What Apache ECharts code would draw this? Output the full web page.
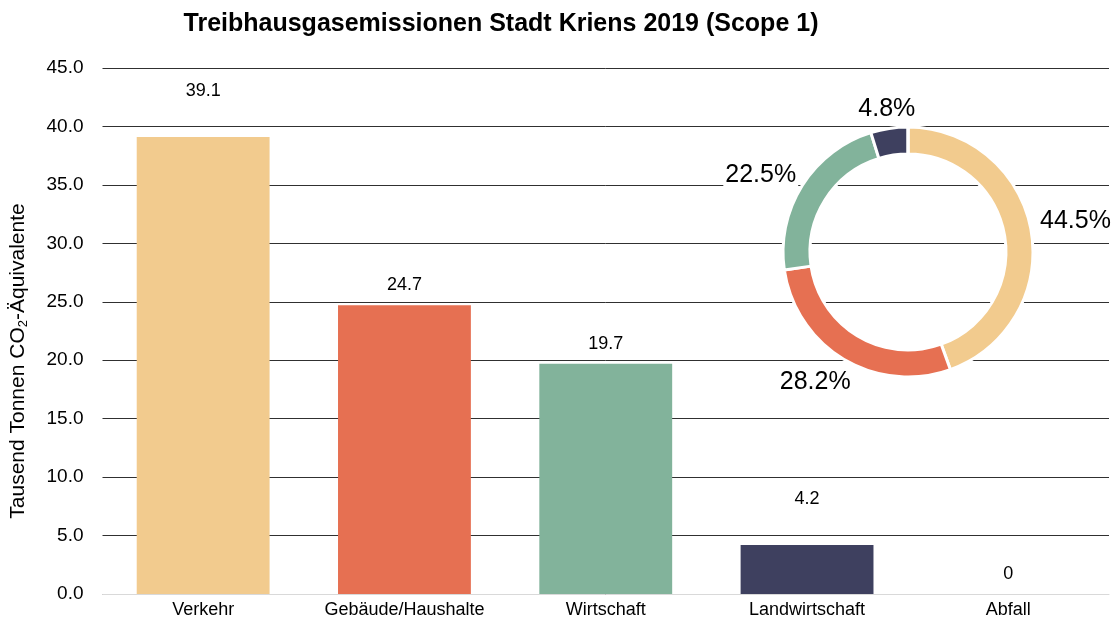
<!DOCTYPE html>
<html>
<head>
<meta charset="utf-8">
<script src="https://cdn.jsdelivr.net/npm/echarts@6/dist/echarts.min.js"></script>
<style>
  html, body { margin: 0; padding: 0; background: #fff; }
  #chart { width: 1118px; height: 625px; }
</style>
</head>
<body>
<div id="chart"></div>
<script>
  // data
  var categories = ["Verkehr", "Gebäude/Haushalte", "Wirtschaft", "Landwirtschaft", "Abfall"];
  var emissions = [39.1, 24.7, 19.7, 4.2, 0];      // Tausend Tonnen CO2-Äq.
  var shares = [44.5, 28.2, 22.5, 4.8, 0];        // % of total, as labelled in the donut
  var yTicks = [0, 5, 10, 15, 20, 25, 30, 35, 40, 45];

  var colors = ["#F2CB8E", "#E67052", "#82B39B", "#3E405F", "#A5A5A5"];
  var labelGap = [37, 11, 11, 37, 11];            // the source chart lifts some labels higher

  var chart = echarts.init(document.getElementById("chart"));
  var font = "Liberation Sans, Arial, sans-serif";

  var barData = emissions.map(function (v, i) {
    return {
      value: v,
      itemStyle: { color: colors[i] },
      label: { distance: labelGap[i] }
    };
  });

  var pieData = shares.map(function (v, i) {
    return {
      name: categories[i],
      value: v,
      itemStyle: { color: colors[i] },
      label: { show: v > 0 }
    };
  });

  // nudges so the donut labels sit where the source put them
  var pieNudge = [[-4, -8], [17, 18], [6, -7], [34, -13], [0, 0]];

  chart.setOption({
    animation: false,
    textStyle: { fontFamily: font },
    title: {
      text: "Treibhausgasemissionen Stadt Kriens 2019 (Scope 1)",
      left: 496, top: 7, textAlign: "center",
      textStyle: { fontSize: 25, fontWeight: "bold", color: "#000", fontFamily: font }
    },
    grid: { left: 98, right: 9, top: 68, bottom: 31 },
    xAxis: {
      type: "category",
      data: categories,
      axisLine: { lineStyle: { color: "#D9D9D9", width: 1 } },
      axisTick: { show: false },
      axisLabel: { color: "#000", fontSize: 18, margin: 7, interval: 0, hideOverlap: false }
    },
    yAxis: {
      type: "value",
      min: yTicks[0], max: yTicks[yTicks.length - 1], interval: 5,
      name: "{a|Tausend Tonnen CO}{s|2}{a|-Äquivalente}",
      nameLocation: "middle",
      nameGap: 73,
      nameTextStyle: {
        padding: [0, 60, 0, 0],
        rich: {
          a: { fontSize: 21, color: "#000", fontFamily: font },
          s: { fontSize: 13, color: "#000", fontFamily: font, padding: [9, 0, 0, 0] }
        }
      },
      axisLine: { show: false },
      axisTick: { show: false },
      axisLabel: {
        color: "#000", fontSize: 19, margin: 19,
        formatter: function (v) { return v.toFixed(1); }
      },
      splitLine: { lineStyle: { color: "#303030", width: 1 } }
    },
    series: [
      {
        type: "bar",
        data: barData,
        barWidth: "66%",
        label: {
          show: true, position: "top", color: "#000", fontSize: 18,
          formatter: function (p) { return p.value === 0 ? "0" : p.value.toFixed(1); }
        }
      },
      {
        type: "pie",
        center: [908, 252],
        radius: [98, 125],
        startAngle: 90,
        clockwise: true,
        data: pieData,
        itemStyle: { borderColor: "#fff", borderWidth: 3 },
        label: {
          position: "outside",
          fontSize: 25, color: "#000",
          backgroundColor: "#fff",
          overflow: "none",
          padding: [2, 2, 0, 2],
          formatter: function (p) { return p.value.toFixed(1) + "%"; }
        },
        labelLine: { show: false, length: 6, length2: 0 },
        labelLayout: function (p) {
          var n = pieNudge[p.dataIndex];
          return { dx: n[0], dy: n[1] };
        }
      }
    ]
  });
</script>
</body>
</html>
